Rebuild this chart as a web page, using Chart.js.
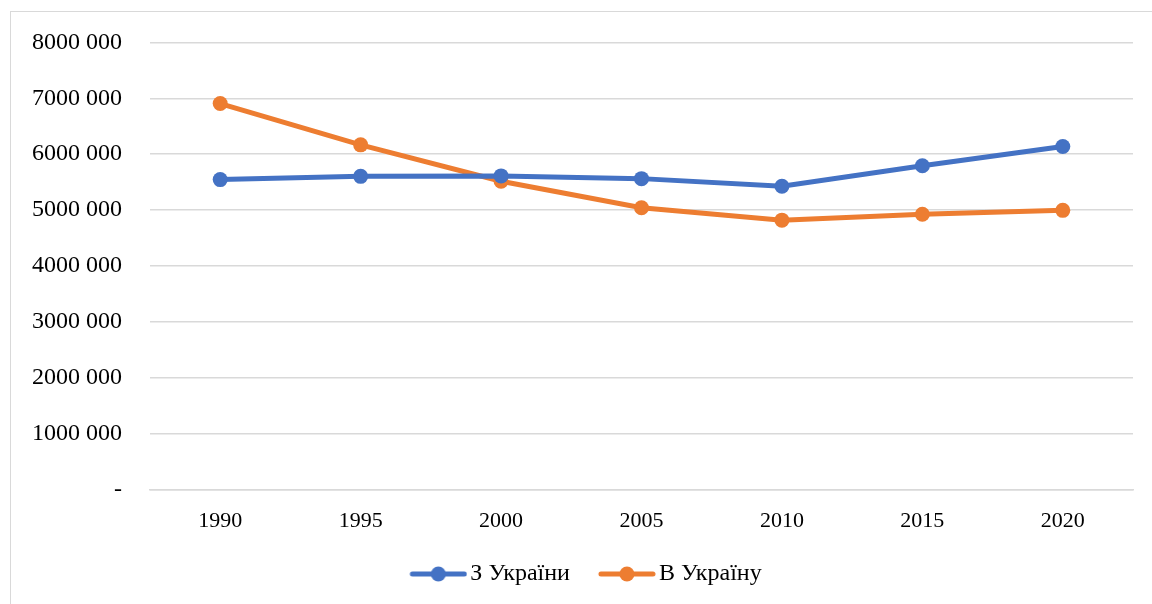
<!DOCTYPE html>
<html>
<head>
<meta charset="utf-8">
<script src="https://cdn.jsdelivr.net/npm/chart.js@4"></script>
<style>
  html, body { margin: 0; padding: 0; background: #fff; }
  #wrap { position: relative; width: 1152px; height: 604px; overflow: hidden; }
  #frame { position: absolute; left: 10px; top: 11px; width: 1160px; height: 700px; border: 1.5px solid #d9d9d9; box-sizing: border-box; }
  canvas { position: absolute; left: 0; top: 0; }
</style>
</head>
<body>
<div id="wrap">
  <div id="frame"></div>
  <canvas id="myChart" width="1152" height="604"></canvas>
</div>
<script>
'use strict'
const years = ['1990', '1995', '2000', '2005', '2010', '2015', '2020']
const fromUkraine = [5546000, 5604000, 5612000, 5563000, 5427000, 5794000, 6137000]
const toUkraine = [6906000, 6167000, 5516000, 5042000, 4820000, 4925000, 4996000]
const seriesNames = ['З України', 'В Україну']
const seriesColors = ['#4472C4', '#ED7D31']

const fontFamily = '"Liberation Serif", "Times New Roman", serif'

// legend marker: short line with a dot in the middle, empty room on the left for spacing
const markerGap = 27
const makeMarker = function(color) {
    let c = document.createElement('canvas')
    c.width = 58 + markerGap
    c.height = 16
    let g = c.getContext('2d')
    g.strokeStyle = color
    g.lineWidth = 5
    g.lineCap = 'round'
    g.beginPath()
    g.moveTo(markerGap + 3, 8)
    g.lineTo(markerGap + 55, 8)
    g.stroke()
    g.fillStyle = color
    g.beginPath()
    g.arc(markerGap + 29, 8, 7.5, 0, Math.PI * 2)
    g.fill()
    return c
}

const formatTick = function(value) {
    if (value === 0) return '-'
    let m = Math.round(value / 1000000)
    return m + '000 000'
}

const makeDataset = function(name, values, color) {
    return {
        label: name,
        data: values,
        borderColor: color,
        backgroundColor: color,
        borderWidth: 5,
        pointRadius: 7.5,
        pointHoverRadius: 7.5,
        pointBorderWidth: 0,
        pointStyle: 'circle',
        tension: 0,
    }
}

const ctx = document.getElementById('myChart')

new Chart(ctx, {
    type: 'line',
    data: {
        labels: years,
        datasets: [
            makeDataset(seriesNames[0], fromUkraine, seriesColors[0]),
            makeDataset(seriesNames[1], toUkraine, seriesColors[1]),
        ],
    },
    options: {
        responsive: false,
        animation: false,
        layout: {
            padding: { top: 38, right: 19, bottom: 8, left: 20 },
        },
        plugins: {
            tooltip: { enabled: false },
            legend: {
                position: 'bottom',
                labels: {
                    usePointStyle: true,
                    pointStyleWidth: 58 + markerGap - 18,
                    padding: 10,
                    color: '#000',
                    font: { family: fontFamily, size: 24 },
                    generateLabels: function(chart) {
                        return chart.data.datasets.map((ds, i) => ({
                            text: ds.label,
                            fillStyle: ds.borderColor,
                            strokeStyle: ds.borderColor,
                            lineWidth: 0,
                            pointStyle: makeMarker(ds.borderColor),
                            datasetIndex: i,
                            hidden: false,
                            fontColor: '#000',
                        }))
                    },
                },
            },
        },
        scales: {
            x: {
                offset: true,
                grid: { display: false, drawTicks: false },
                border: { display: true, color: '#d9d9d9', width: 1.5 },
                ticks: {
                    color: '#000',
                    padding: 18,
                    maxRotation: 0,
                    font: { family: fontFamily, size: 22 },
                },
            },
            y: {
                min: 0,
                max: 8000000,
                afterFit: function(scale) { scale.width = 130 },
                grid: { color: '#d9d9d9', lineWidth: 1.5, drawTicks: false },
                border: { display: false },
                ticks: {
                    stepSize: 1000000,
                    color: '#000',
                    padding: 28,
                    font: { family: fontFamily, size: 24 },
                    callback: formatTick,
                },
            },
        },
    },
})
</script>
</body>
</html>
